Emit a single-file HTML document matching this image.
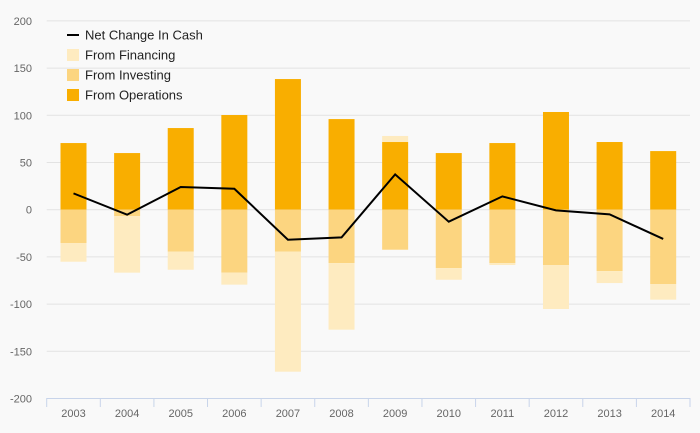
<!DOCTYPE html>
<html><head><meta charset="utf-8"><style>
body{margin:0;background:#f9f9f9;}
svg{display:block;font-family:"Liberation Sans",sans-serif;}
</style></head><body>
<svg id="chart" width="700" height="433"></svg>
<script>
const categories=["2003","2004","2005","2006","2007","2008","2009","2010","2011","2012","2013","2014"];
const operations=[70.6,60,86.5,100.3,138.4,96,71.7,60,70.6,103.5,71.7,62.1];
const investing=[-35.3,-6.7,-44.5,-66.7,-44.5,-56.5,-42.4,-61.8,-56.5,-58.6,-65,-78.7];
const financing=[-19.8,-60,-19.1,-12.7,-127.1,-70.6,6.4,-12.4,-2.1,-46.6,-12.7,-16.6];
const netChange=[17.3,-5.3,24,22.2,-31.8,-29.3,37.4,-12.7,14.1,-0.7,-4.9,-31];
const yTicks=[200,150,100,50,0,-50,-100,-150,-200];

const svg=document.getElementById('chart');
const NS='http://www.w3.org/2000/svg';
const X0=46.7,X1=690,Y0=209.7,K=0.944;
const band=(X1-X0)/categories.length, bw=26;
const y=v=>Y0-v*K;
const xc=i=>X0+band*(i+0.5);
function mk(t,a,p){const e=document.createElementNS(NS,t);for(const k in a)e.setAttribute(k,a[k]);(p||svg).appendChild(e);return e;}

yTicks.forEach(t=>{
  if(t!==-200){const g=mk('line',{x1:X0,x2:X1,y1:y(t),y2:y(t),stroke:'#e3e3e3','stroke-width':1});
  
  }
  const l=mk('text',{x:32,y:y(t)+4,'text-anchor':'end','font-size':11,fill:'#666'});l.textContent=t;
  
  
});

function bar(i,a,b,c,name){
  const top=Math.min(y(a),y(b)),h=Math.abs(y(a)-y(b));
  const r=mk('rect',{x:xc(i)-bw/2,y:top,width:bw,height:h,fill:c});
  
  
}
categories.forEach((c,i)=>{
  bar(i,0,operations[i],'#f9ae00','bar-operations');
  bar(i,0,investing[i],'#fcd580','bar-investing');
  const base=financing[i]>=0?operations[i]:investing[i];
  bar(i,base,base+financing[i],'#feebc0','bar-financing');
});

const pts=netChange.map((v,i)=>xc(i)+','+y(v)).join(' ');
const pl=mk('polyline',{points:pts,fill:'none',stroke:'#000','stroke-width':2,'stroke-linejoin':'miter'});



const ax=mk('line',{x1:X0,x2:X1,y1:398.5,y2:398.5,stroke:'#c8d4ea','stroke-width':1});


for(let i=0;i<=categories.length;i++){
  const tk=mk('line',{x1:X0+band*i,x2:X0+band*i,y1:398,y2:407,stroke:'#c8d4ea','stroke-width':1});
  
  
}
categories.forEach((c,i)=>{
  const t=mk('text',{x:xc(i),y:417,'text-anchor':'middle','font-size':11,fill:'#666'});t.textContent=c;
  
  
});

const leg=[['line','#000','Net Change In Cash'],['rect','#feebc0','From Financing'],['rect','#fcd580','From Investing'],['rect','#f9ae00','From Operations']];
leg.forEach((e,i)=>{
  const cy=35+20*i;
  const g=mk('g',{});
  
  
  if(e[0]==='line')mk('line',{x1:67,x2:79,y1:cy,y2:cy,stroke:'#000','stroke-width':2},g);
  else mk('rect',{x:67,y:cy-6,width:12,height:12,fill:e[1]},g);
  const t=mk('text',{x:85,y:cy+4.5,'font-size':13,fill:'#222'},g);t.textContent=e[2];
});
</script>
</body></html>
